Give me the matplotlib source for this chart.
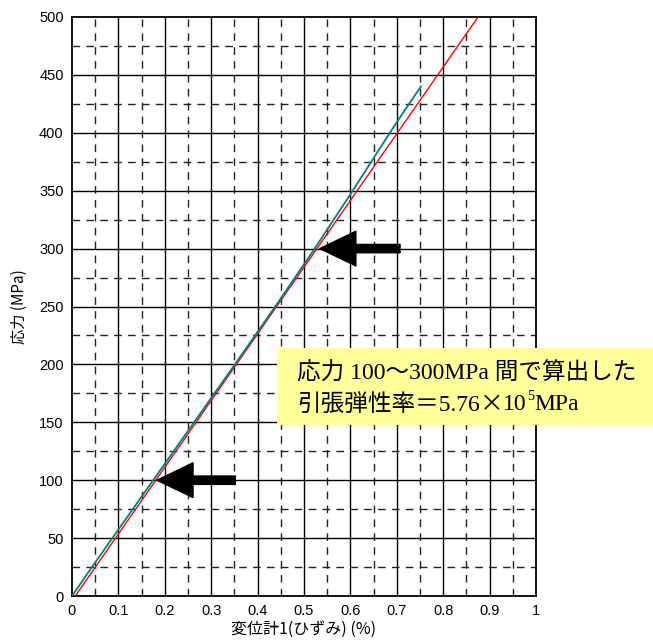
import matplotlib
matplotlib.use("Agg")
import matplotlib.pyplot as plt
from matplotlib.patches import Rectangle

# Data
stress_teal = [0, 25, 50, 100, 150, 200, 250, 300, 350, 400, 420, 440]
strain_teal = [0, 0.043, 0.087, 0.175, 0.263, 0.351, 0.438, 0.523, 0.605, 0.685, 0.718, 0.752]
stress_red = [0, 500]
strain_red = [0.007, 0.875]
arrow_stress = [100, 300]
arrow_tip = [0.183, 0.534]
arrow_tail = [0.352, 0.707]
xticks = [0, 0.1, 0.2, 0.3, 0.4, 0.5, 0.6, 0.7, 0.8, 0.9, 1]
xticklabels = ["0", "0.1", "0.2", "0.3", "0.4", "0.5", "0.6", "0.7", "0.8", "0.9", "1"]
yticks = [0, 50, 100, 150, 200, 250, 300, 350, 400, 450, 500]
xlabel = "変位計1(ひずみ) (%)"
ylabel = "応力 (MPa)"
note_line1 = "応力 100～300MPa 間で算出した"
note_line2_parts = ["引張弾性率＝5.76", "×", "10", "5", "MPa"]

fig = plt.figure(figsize=(6.53, 6.44), dpi=100)
ax = fig.add_axes([72/653, 48/644, 464/653, 579/644])
ax.set_xlim(0, 1)
ax.set_ylim(0, 500)

# grid
for xv in [i * 0.1 for i in range(1, 10)]:
    ax.axvline(xv, color="black", lw=1.0, zorder=1)
for yv in yticks[1:-1]:
    ax.axhline(yv, color="black", lw=1.0, zorder=1)
for i in range(10):
    ax.axvline(0.05 + i * 0.1, color="#222222", lw=1.0, ls=(0, (5.5, 4.5)), zorder=1)
    ax.axhline(25 + i * 50, color="#222222", lw=1.0, ls=(0, (5.5, 4.5)), zorder=1)

ax.plot(strain_red, stress_red, color="#ff0000", lw=1.0, zorder=3)
ax.plot(strain_teal, stress_teal, color="#008080", lw=1.3, zorder=4)

for s, tip, tail in zip(arrow_stress, arrow_tip, arrow_tail):
    ax.annotate("", xy=(tip, s), xytext=(tail, s),
                arrowprops=dict(arrowstyle="simple,head_length=26,head_width=25,tail_width=6",
                                mutation_scale=1, color="black", shrinkA=0, shrinkB=0),
                zorder=6)

ax.set_xticks(xticks)
ax.set_xticklabels(xticklabels)
ax.set_yticks(yticks)
ax.tick_params(length=0, labelsize=10.5, pad=6)
for lab in ax.get_xticklabels() + ax.get_yticklabels():
    lab.set_fontfamily(["Liberation Sans", "DejaVu Sans"])
for sp in ax.spines.values():
    sp.set_linewidth(1.3)

ax.set_xlabel(xlabel, fontsize=11.5, family=["Noto Sans CJK JP", "DejaVu Sans"], labelpad=2)
ax.set_ylabel(ylabel, fontsize=11, family=["Noto Sans CJK JP", "DejaVu Sans"], labelpad=8)

# annotation box
fig.patches.append(Rectangle((277/653, (644-425)/644), (653-277)/653, 77/644,
                             transform=fig.transFigure, facecolor="#ffff99",
                             edgecolor="none", zorder=10))
fam = ["Liberation Serif", "Noto Sans CJK JP"]
cjk = ["Noto Sans CJK JP", "Liberation Serif"]
fs = 17
fig.text(297/653, (644-373)/644, note_line1, fontsize=fs, family=fam, va="center", ha="left", zorder=11)

fig.canvas.draw()
x = 297
y2 = (644 - 405) / 644
specs = [(note_line2_parts[0], fam, fs, 0, 0),
         (note_line2_parts[1], cjk, fs, 0, 0),
         (note_line2_parts[2], fam, fs, 0, 0),
         (note_line2_parts[3], fam, fs * 0.6, 8, 0),
         (note_line2_parts[4], fam, fs, 0, 0)]
for txt, f, size, dy, dx in specs:
    t = fig.text(x / 653, y2 + dy / 644, txt, fontsize=size, family=f, va="center", ha="left", zorder=11)
    fig.canvas.draw()
    bb = t.get_window_extent()
    x = bb.x1 + dx

fig.savefig("out.png", dpi=100)
